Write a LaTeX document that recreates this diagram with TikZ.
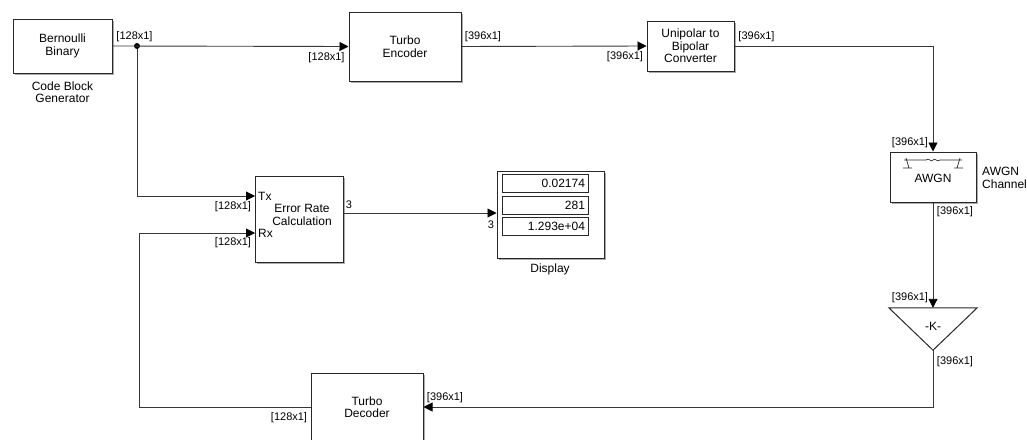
\documentclass[tikz,border=0pt]{standalone}
\usepackage{fontspec}
\setmainfont{Liberation Sans}
\usepackage{tikz}
\usetikzlibrary{arrows.meta, positioning, shadows}
\definecolor{blkline}{RGB}{40,40,40}
\definecolor{sigline}{RGB}{55,55,55}
\definecolor{blkshade}{RGB}{150,150,150}
\newcommand{\blkfont}{\fontsize{12}{12.5}\selectfont}
\newcommand{\dimfont}{\fontsize{11}{12}\selectfont}

\begin{document}
\begin{tikzpicture}[
  x=1pt, y=-1pt,
  block/.style={draw=blkline, fill=white, line width=1pt, align=center,
                font=\blkfont, inner sep=0pt,
                drop shadow={shadow xshift=1.5pt, shadow yshift=-1.5pt,
                             fill=blkshade, opacity=0.8}},
  field/.style={draw=blkline, fill=white, line width=0.7pt, font=\blkfont,
                minimum width=86, minimum height=18, inner sep=2pt,
                text width=80, align=right},
  sig/.style={draw=sigline, line width=0.9pt,
              -{Triangle[length=9pt, width=9pt, fill=black, color=black]}},
  dim/.style={font=\dimfont, inner sep=0pt},
  caption/.style={font=\blkfont, align=center, inner sep=0pt},
  branch/.style={circle, fill=black, inner sep=0pt, minimum size=6pt},
]
\useasboundingbox (0,0) rectangle (1027,439);

% =================================================================
% TOP ROW: source, encoder, converter
% =================================================================
\node[block, minimum width=99, minimum height=54] (bern) at (62.5,46)
  {Bernoulli\\Binary};
\node[caption] (bernlbl) at (62.5,92) {Code Block\\Generator};

\node[block, minimum width=112, minimum height=69] (enc) at (405,46.5)
  {Turbo\\Encoder};
\node[block, minimum width=87, minimum height=50] (uni) at (690.5,46)
  {Unipolar to\\Bipolar\\Converter};

\node[branch] (dot) at (137,46) {};

% =================================================================
% RIGHT COLUMN: channel and gain
% =================================================================
\node[block, minimum width=86, minimum height=50] (awgn) at (933,177)
  {\\[-1pt]AWGN};
\draw[blkline, line width=0.7pt]
  (904,160) -- (926,160) .. controls (929,157) and (931,163) .. (933,160)
  .. controls (935,157) and (937,163) .. (940,160) -- (962,160);
\draw[blkline, line width=0.7pt] (906,158) -- (909,168) (903,168) -- (912,168);
\draw[blkline, line width=0.7pt] (960,158) -- (957,168) (954,168) -- (963,168);
\node[font=\blkfont, align=left, anchor=west, inner sep=0pt] (awgnlbl)
  at (982,178) {AWGN\\Channel};

\node[minimum width=88, minimum height=42, inner sep=0pt] (gain)
  at (933,329) {};
\draw[blkline, line width=1pt, fill=white]
  (gain.north west) -- (gain.north east) -- (gain.south) -- cycle;
\node[font=\blkfont, inner sep=0pt] (gaintxt) at (933,326) {-K-};

% =================================================================
% BOTTOM / MIDDLE: decoder, error rate, display
% =================================================================
\node[block, minimum width=112, minimum height=68] (dec) at (367,407)
  {Turbo\\Decoder};

\node[block, minimum width=88, minimum height=86] (err) at (299,219) {};
\node[caption] (errtxt) at (302,215) {Error Rate\\Calculation};
\node[font=\blkfont, anchor=west, inner sep=0pt] (txlbl) at (258,196) {Tx};
\node[font=\blkfont, anchor=west, inner sep=0pt] (rxlbl) at (258,233) {Rx};
\coordinate (tx) at (255,196);
\coordinate (rx) at (255,233);
\coordinate (fb) at (139,407);

\node[block, minimum width=107, minimum height=87] (disp) at (550.5,214.5) {};
\node[field] (f1) at (545,183) {0.02174};
\node[field] (f2) at (545,205) {281};
\node[field] (f3) at (545,226) {1.293e+04};
\node[caption] (displbl) at (550,269) {Display};

% =================================================================
% SIGNAL LINES
% =================================================================
\draw[sig] (bern.east) -- (enc.west);
\draw[sig] (dot) |- (tx);
\draw[sig] (enc.east) -- (uni.west);
\draw[sig] (uni.east) -| (awgn.north);
\draw[sig] (awgn.south) -- (gain.north);
\draw[sig] (gain.south) |- (dec.east);
\draw[sig] (dec.west) -- (fb) |- (rx);
\draw[sig] (err.east |- 0,213) -- (disp.west |- 0,213);

% dimension labels
\node[dim] at (134.5,37) {[128x1]};
\node[dim] at (326.5,58) {[128x1]};
\node[dim] at (483,37) {[396x1]};
\node[dim] at (625,57) {[396x1]};
\node[dim] at (756.5,37) {[396x1]};
\node[dim] at (910,143) {[396x1]};
\node[dim] at (955,212) {[396x1]};
\node[dim] at (910,298) {[396x1]};
\node[dim] at (955,362) {[396x1]};
\node[dim] at (445,398) {[396x1]};
\node[dim] at (289,418) {[128x1]};
\node[dim] at (233,207) {[128x1]};
\node[dim] at (233,243) {[128x1]};
\node[dim] at (349,205) {3};
\node[dim] at (491,225) {3};

\end{tikzpicture}
\end{document}
